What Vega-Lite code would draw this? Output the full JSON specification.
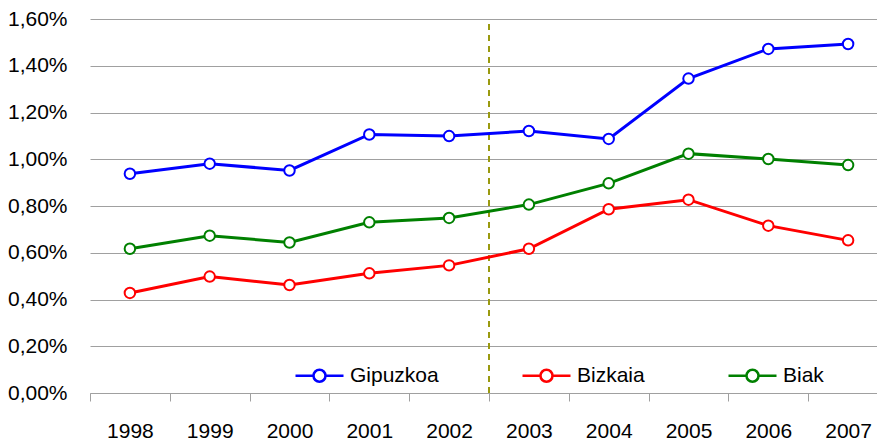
{
  "$schema": "https://vega.github.io/schema/vega-lite/v6.json",
  "autosize": "none",
  "padding": {"left": 90, "top": 19, "right": 0, "bottom": 52},
  "width": 798,
  "height": 374,
  "background": "white",
  "config": {
    "view": {"stroke": null},
    "font": "Liberation Sans Narrow, Arial Narrow, Liberation Sans, sans-serif"
  },
  "data": {
    "values": [
      {"year": "1998", "series": "Gipuzkoa", "value": 0.00938},
      {"year": "1999", "series": "Gipuzkoa", "value": 0.00981},
      {"year": "2000", "series": "Gipuzkoa", "value": 0.00952},
      {"year": "2001", "series": "Gipuzkoa", "value": 0.01106},
      {"year": "2002", "series": "Gipuzkoa", "value": 0.01099},
      {"year": "2003", "series": "Gipuzkoa", "value": 0.01121},
      {"year": "2004", "series": "Gipuzkoa", "value": 0.01087},
      {"year": "2005", "series": "Gipuzkoa", "value": 0.01345},
      {"year": "2006", "series": "Gipuzkoa", "value": 0.01472},
      {"year": "2007", "series": "Gipuzkoa", "value": 0.01493},
      {"year": "1998", "series": "Bizkaia", "value": 0.00428},
      {"year": "1999", "series": "Bizkaia", "value": 0.00498},
      {"year": "2000", "series": "Bizkaia", "value": 0.00462},
      {"year": "2001", "series": "Bizkaia", "value": 0.00512},
      {"year": "2002", "series": "Bizkaia", "value": 0.00546},
      {"year": "2003", "series": "Bizkaia", "value": 0.00617},
      {"year": "2004", "series": "Bizkaia", "value": 0.00786},
      {"year": "2005", "series": "Bizkaia", "value": 0.00827},
      {"year": "2006", "series": "Bizkaia", "value": 0.00716},
      {"year": "2007", "series": "Bizkaia", "value": 0.00653},
      {"year": "1998", "series": "Biak", "value": 0.00617},
      {"year": "1999", "series": "Biak", "value": 0.00673},
      {"year": "2000", "series": "Biak", "value": 0.00644},
      {"year": "2001", "series": "Biak", "value": 0.00730},
      {"year": "2002", "series": "Biak", "value": 0.00749},
      {"year": "2003", "series": "Biak", "value": 0.00806},
      {"year": "2004", "series": "Biak", "value": 0.00897},
      {"year": "2005", "series": "Biak", "value": 0.01024},
      {"year": "2006", "series": "Biak", "value": 0.01001},
      {"year": "2007", "series": "Biak", "value": 0.00975}
    ]
  },
  "encoding": {
    "x": {
      "field": "year",
      "type": "ordinal",
      "scale": {"type": "band", "paddingInner": 0, "paddingOuter": 0},
      "axis": {
        "title": null,
        "labelAngle": 0,
        "labelFontSize": 21,
        "labelColor": "black",
        "labelPadding": 19,
        "tickBand": "extent",
        "tickSize": 8,
        "tickColor": "#a0a0a0",
        "domainColor": "#a0a0a0",
        "grid": false
      }
    },
    "y": {
      "field": "value",
      "type": "quantitative",
      "scale": {"domain": [0, 0.016], "nice": false},
      "axis": {
        "title": null,
        "values": [0, 0.002, 0.004, 0.006, 0.008, 0.010, 0.012, 0.014, 0.016],
        "labelExpr": "replace(format(datum.value, '.2%'), '.', ',')",
        "labelFontSize": 21,
        "labelColor": "black",
        "labelPadding": 23,
        "ticks": false,
        "domain": false,
        "grid": true,
        "gridColor": "#a0a0a0",
        "gridWidth": 1
      }
    }
  },
  "layer": [
    {
      "mark": {"type": "rule", "color": "#9a9a10", "strokeWidth": 2, "strokeDash": [6, 5]},
      "encoding": {
        "x": {"datum": "2003", "type": "ordinal", "bandPosition": 0},
        "y": {"datum": 0, "type": "quantitative"},
        "y2": {"datum": 0.016}
      }
    },
    {
      "mark": {"type": "line", "strokeWidth": 3},
      "encoding": {
        "color": {
          "field": "series",
          "type": "nominal",
          "scale": {"domain": ["Gipuzkoa", "Bizkaia", "Biak"], "range": ["#0000ff", "#ff0000", "#008000"]},
          "legend": {
            "title": null,
            "orient": "none",
            "legendX": 204,
            "legendY": 331,
            "direction": "horizontal",
            "symbolType": "M-1,0L-0.25,0M0.25,0L1,0M0.25,0A0.25,0.25,0,1,1,-0.25,0A0.25,0.25,0,1,1,0.25,0",
            "symbolSize": 2304,
            "symbolFillColor": "white",
            "symbolStrokeWidth": 2.5,
            "labelFontSize": 21,
            "labelColor": "black",
            "labelOffset": 5,
            "columnPadding": 78
          }
        }
      }
    },
    {
      "mark": {"type": "point", "filled": false, "fill": "white", "size": 110, "strokeWidth": 2, "opacity": 1},
      "encoding": {
        "color": {"field": "series", "type": "nominal"}
      }
    }
  ]
}
